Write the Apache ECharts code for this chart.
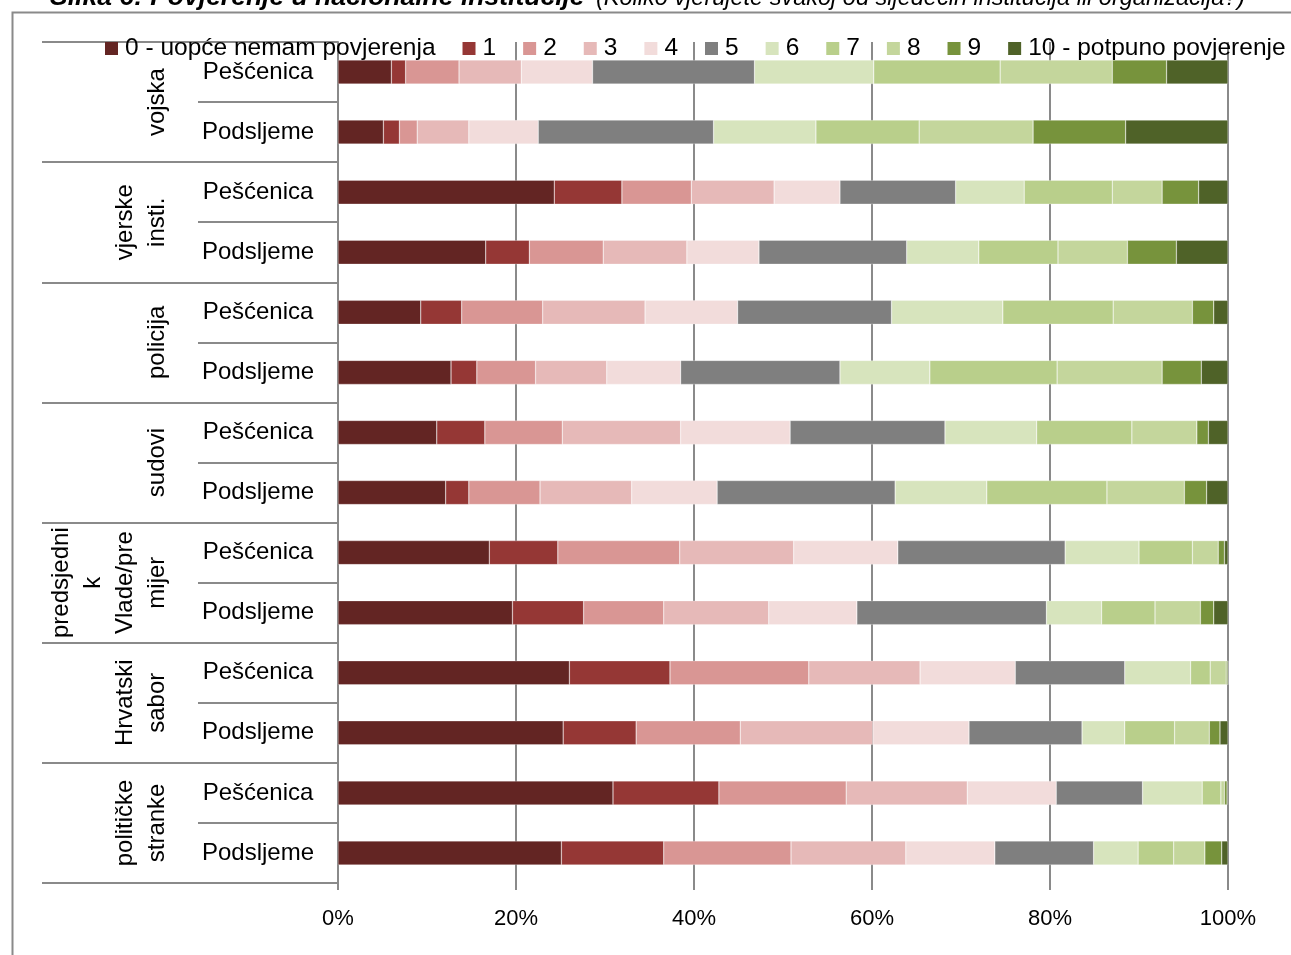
<!DOCTYPE html>
<html>
<head>
<meta charset="utf-8">
<script src="https://cdn.jsdelivr.net/npm/echarts@6/dist/echarts.min.js"></script>
<style>
html,body{margin:0;padding:0;background:#fff;}
#c{width:1291px;height:955px;}
</style>
</head>
<body>
<div id="c"></div>
<script>
// ---- data ----
const groups = ['vojska', 'vjerske\ninsti.', 'policija', 'sudovi', 'predsjedni\nk\nVlade/pre\nmijer', 'Hrvatski\nsabor', 'političke\nstranke'];
const places = ['Pešćenica', 'Podsljeme'];
const levels = ['0 - uopće nemam povjerenja', '1', '2', '3', '4', '5', '6', '7', '8', '9', '10 - potpuno povjerenje'];
const xTicks = [0, 20, 40, 60, 80, 100];
const titleMain = 'Slika 6: Povjerenje u nacionalne institucije';
const titleSub = '(Koliko vjerujete svakoj od sljedećih institucija ili organizacija?)';

// shares (%) of answers 0..10 per institution / neighbourhood
const vojskaPescenica      = [6.0, 1.6, 6.0, 7.0, 8.0, 18.2, 13.4, 14.2, 12.6, 6.1, 6.9];
const vojskaPodsljeme      = [5.1, 1.8, 2.0, 5.8, 7.8, 19.7, 11.5, 11.6, 12.8, 10.4, 11.5];
const vjerskePescenica     = [24.3, 7.6, 7.8, 9.3, 7.4, 13.0, 7.7, 9.9, 5.6, 4.1, 3.3];
const vjerskePodsljeme     = [16.6, 4.9, 8.3, 9.4, 8.1, 16.6, 8.1, 8.9, 7.8, 5.5, 5.8];
const policijaPescenica    = [9.3, 4.6, 9.1, 11.5, 10.4, 17.3, 12.5, 12.4, 8.9, 2.4, 1.6];
const policijaPodsljeme    = [12.7, 2.9, 6.6, 8.0, 8.3, 17.9, 10.1, 14.3, 11.8, 4.4, 3.0];
const sudoviPescenica      = [11.1, 5.4, 8.7, 13.3, 12.3, 17.4, 10.3, 10.7, 7.3, 1.3, 2.2];
const sudoviPodsljeme      = [12.1, 2.6, 8.0, 10.3, 9.6, 20.0, 10.3, 13.5, 8.7, 2.5, 2.4];
const premijerPescenica    = [17.0, 7.7, 13.7, 12.8, 11.7, 18.8, 8.3, 6.0, 2.9, 0.7, 0.4];
const premijerPodsljeme    = [19.6, 8.0, 9.0, 11.8, 9.9, 21.3, 6.2, 6.0, 5.1, 1.5, 1.6];
const saborPescenica       = [26.0, 11.3, 15.6, 12.5, 10.7, 12.3, 7.4, 2.2, 1.8, 0.2, 0.0];
const saborPodsljeme       = [25.3, 8.2, 11.7, 14.9, 10.8, 12.7, 4.8, 5.6, 3.9, 1.2, 0.9];
const strankePescenica     = [30.9, 11.9, 14.3, 13.6, 10.0, 9.7, 6.7, 2.1, 0.4, 0.3, 0.1];
const strankePodsljeme     = [25.1, 11.5, 14.3, 12.9, 10.0, 11.1, 5.0, 4.0, 3.5, 1.9, 0.7];

const rows = [
  vojskaPescenica, vojskaPodsljeme,
  vjerskePescenica, vjerskePodsljeme,
  policijaPescenica, policijaPodsljeme,
  sudoviPescenica, sudoviPodsljeme,
  premijerPescenica, premijerPodsljeme,
  saborPescenica, saborPodsljeme,
  strankePescenica, strankePodsljeme
];
const barCategories = groups.flatMap(() => places);

// ---- styles ----
const colors = ['#632523', '#953735', '#D99694', '#E6B9B8', '#F2DCDB', '#7F7F7F',
                '#D7E4BD', '#B9CF8B', '#C4D69C', '#77933C', '#4F6228'];
const FONT = 'Liberation Sans, Arial, sans-serif';
const lineGray = '#8a8a8a';

const chart = echarts.init(document.getElementById('c'), null, {renderer: 'canvas'});
chart.setOption({
  animation: false,
  backgroundColor: '#fff',
  textStyle: {fontFamily: FONT, color: '#000'},
  title: [{
    left: 50, top: -15, padding: 0, text: titleMain,
    textStyle: {fontFamily: FONT, fontSize: 26.5, fontWeight: 'bold', fontStyle: 'italic', color: '#000', lineHeight: 26}
  }, {
    left: 596, top: -13, padding: 0, text: titleSub,
    textStyle: {fontFamily: FONT, fontSize: 23.5, fontWeight: 'normal', fontStyle: 'italic', color: '#000', lineHeight: 23}
  }],
  graphic: [{
    type: 'rect', left: 10, top: 10, silent: true, z: -1,
    shape: {width: 1300, height: 1000},
    style: {fill: 'none', stroke: lineGray, lineWidth: 2}
  }],
  legend: {
    left: 105, top: 36, padding: 0,
    itemWidth: 13, itemHeight: 13, itemGap: 27,
    icon: 'rect',
    itemStyle: {borderWidth: 0},
    textStyle: {fontFamily: FONT, fontSize: 24.5, color: '#000', padding: [0, 0, 0, 2]},
    data: levels
  },
  grid: {left: 338, right: 63, top: 42, bottom: 72, containLabel: false},
  xAxis: {
    type: 'value', min: xTicks[0], max: xTicks[xTicks.length - 1], interval: 20,
    axisLine: {show: false},
    axisTick: {show: true, length: 7, lineStyle: {color: lineGray, width: 2}},
    splitLine: {show: true, lineStyle: {color: lineGray, width: 2}},
    axisLabel: {formatter: '{value}%', fontFamily: FONT, fontSize: 22, color: '#000', margin: 25}
  },
  yAxis: [{
    type: 'category', inverse: true, data: barCategories, position: 'left',
    axisLine: {show: true, lineStyle: {color: lineGray, width: 2}},
    axisTick: {show: true, interval: 0, length: 140, lineStyle: {color: lineGray, width: 2}},
    axisLabel: {interval: 0, align: 'center', margin: 80, fontFamily: FONT, fontSize: 24, color: '#000'}
  }, {
    type: 'category', inverse: true, data: groups, position: 'left', offset: 0,
    axisLine: {show: false},
    axisTick: {show: true, interval: 0, length: 296, lineStyle: {color: lineGray, width: 2}},
    axisLabel: {interval: 0, rotate: 90, margin: 165, fontFamily: FONT, fontSize: 24, lineHeight: 32, color: '#000'}
  }],
  series: levels.map((name, k) => ({
    type: 'bar', name: name, stack: 'total', barWidth: 24, yAxisIndex: 0,
    itemStyle: {color: colors[k], borderColor: 'rgba(255,255,255,0.55)', borderWidth: 0.5},
    data: rows.map(r => r[k])
  }))
});
</script>
</body>
</html>
